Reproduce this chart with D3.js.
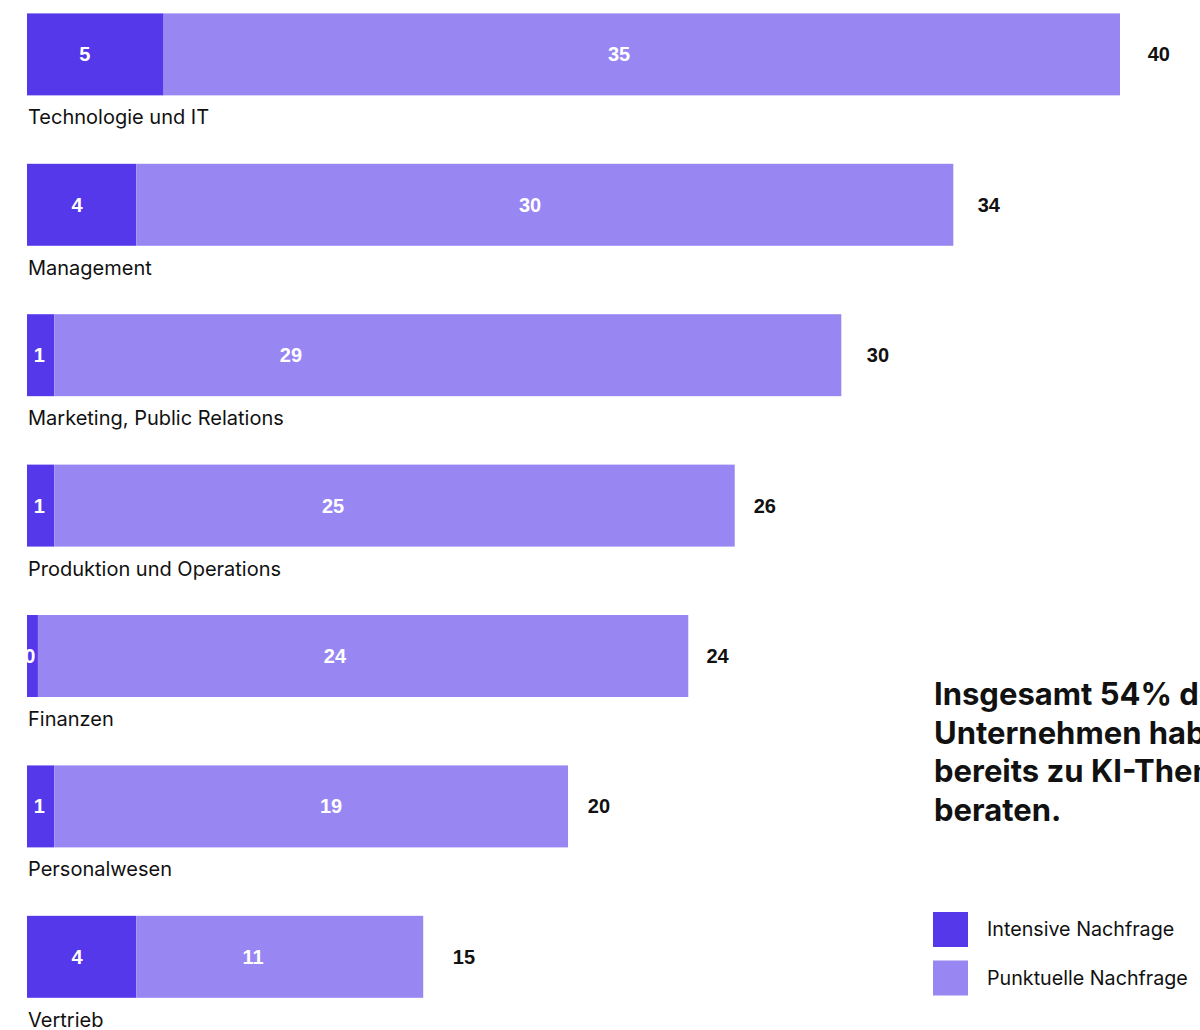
<!DOCTYPE html>
<html lang="de">
<head>
<meta charset="utf-8">
<script src="https://cdn.jsdelivr.net/npm/d3@7"></script>
<style>
  html, body { margin: 0; padding: 0; background: #fff; overflow: hidden; }
  svg { display: block; }
</style>
</head>
<body>
<svg id="chart" width="1200" height="1030"></svg>
<script>
// Beratungsnachfrage nach Unternehmensbereich
const categories = [
  "Technologie und IT",
  "Management",
  "Marketing, Public Relations",
  "Produktion und Operations",
  "Finanzen",
  "Personalwesen",
  "Vertrieb"
];
const intensive = [5, 4, 1, 1, 0.4, 1, 4];                  // Intensive Nachfrage
const punctual  = [35, 29.9, 28.8, 24.9, 23.8, 18.8, 10.5]; // Punktuelle Nachfrage
const seriesNames = ["Intensive Nachfrage", "Punktuelle Nachfrage"];
const headline = ["Insgesamt 54% der", "Unternehmen haben sich", "bereits zu KI-Themen", "beraten."];

// where the value labels sit along each bar (in value units from zero)
const intensiveLabelAt = [2.12, 1.83, 0.45, 0.45, 0.1, 0.45, 1.83];
const punctualLabelAt  = [21.67, 18.41, 9.66, 11.2, 11.27, 11.13, 8.27];
const totalLabelAt     = [41.42, 35.2, 31.14, 27.0, 25.27, 20.93, 15.99];

const colors = ["#5538ea", "#9886f2"];
const labelFont = "Inter, 'Noto Sans', sans-serif";
const valueFont = "'Liberation Sans', Arial, sans-serif";

const svg = d3.select("#chart");

const x = d3.scaleLinear().domain([0, 40]).range([27, 1120]);
const y = d3.scaleBand()
  .domain(categories)
  .range([13.4, 997.8])
  .paddingInner(0.455)
  .paddingOuter(0);

const rows = categories.map((c, i) => ({
  category: c,
  intensive: intensive[i],
  punctual: punctual[i],
  i
}));

const layers = d3.stack().keys(["intensive", "punctual"])(rows);

svg.append("defs").append("clipPath").attr("id", "plot-clip")
  .append("rect").attr("x", 27).attr("y", 0).attr("width", 1173).attr("height", 1030);

// stacked bars
svg.append("g").selectAll("g")
  .data(layers)
  .join("g")
  .attr("fill", (d, k) => colors[k])
  .selectAll("rect")
  .data(d => d)
  .join("rect")
  .attr("x", d => x(d[0]))
  .attr("y", d => y(d.data.category))
  .attr("width", d => x(d[1]) - x(d[0]))
  .attr("height", y.bandwidth());

const midY = d => y(d.category) + y.bandwidth() / 2;

// values inside the bars
const inner = svg.append("g").attr("clip-path", "url(#plot-clip)")
  .attr("font-family", valueFont)
  .attr("font-weight", "bold")
  .attr("font-size", 20)
  .attr("fill", "#fff")
  .attr("text-anchor", "middle");

inner.selectAll("text.int")
  .data(rows)
  .join("text")
  .attr("class", "int")
  .attr("x", d => x(intensiveLabelAt[d.i]))
  .attr("y", midY)
  .attr("dy", "0.35em")
  .text(d => Math.round(d.intensive));

inner.selectAll("text.pun")
  .data(rows)
  .join("text")
  .attr("class", "pun")
  .attr("x", d => x(punctualLabelAt[d.i]))
  .attr("y", midY)
  .attr("dy", "0.35em")
  .text(d => Math.round(d.punctual));

// totals right of the bars
svg.append("g")
  .attr("font-family", valueFont)
  .attr("font-weight", "bold")
  .attr("font-size", 20)
  .attr("fill", "#111")
  .attr("text-anchor", "middle")
  .selectAll("text")
  .data(rows)
  .join("text")
  .attr("x", d => x(totalLabelAt[d.i]))
  .attr("y", midY)
  .attr("dy", "0.35em")
  .text(d => Math.round(d.intensive + d.punctual));

// category names below the bars
svg.append("g")
  .attr("font-family", labelFont)
  .attr("font-size", 20)
  .attr("fill", "#111")
  .selectAll("text")
  .data(rows)
  .join("text")
  .attr("x", 28)
  .attr("y", d => y(d.category) + y.bandwidth() + 22)
  .attr("dy", "0.35em")
  .text(d => d.category);

// headline
svg.append("text")
  .attr("font-family", labelFont)
  .attr("font-weight", "bold")
  .attr("font-size", 31)
  .attr("fill", "#111")
  .selectAll("tspan")
  .data(headline)
  .join("tspan")
  .attr("x", 934)
  .attr("y", (d, k) => 705 + k * 38.7)
  .text(d => d);

// legend
const legend = svg.append("g").attr("transform", "translate(933,912)");
const item = legend.selectAll("g")
  .data(seriesNames)
  .join("g")
  .attr("transform", (d, k) => `translate(0,${k * 48.5})`);
item.append("rect")
  .attr("width", 35).attr("height", 35)
  .attr("fill", (d, k) => colors[k]);
item.append("text")
  .attr("x", 54)
  .attr("y", 17.5)
  .attr("dy", "0.35em")
  .attr("font-family", labelFont)
  .attr("font-size", 19.7)
  .attr("fill", "#111")
  .text(d => d);
</script>
</body>
</html>
